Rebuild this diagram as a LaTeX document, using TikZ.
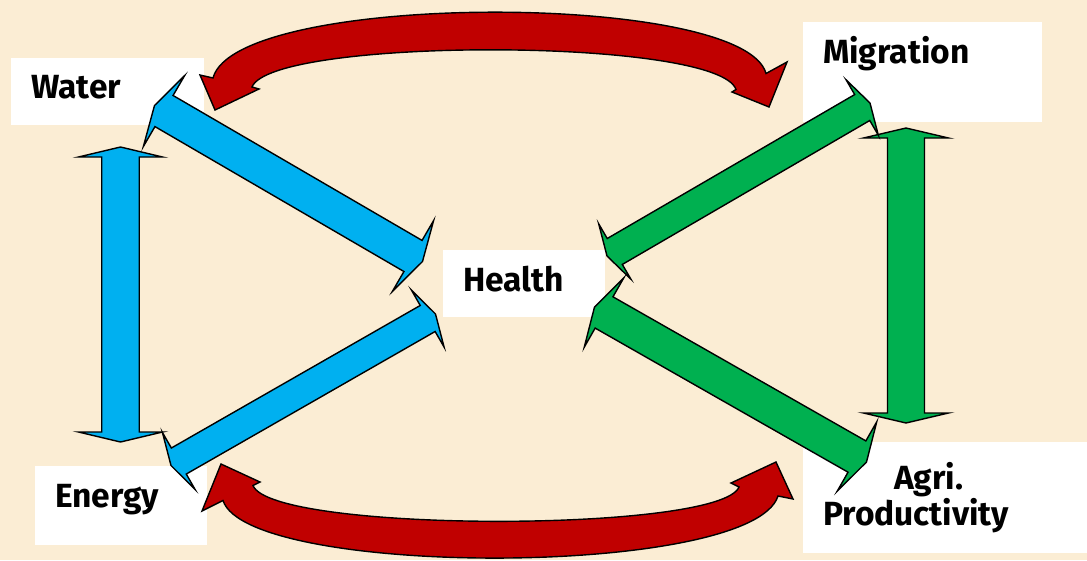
\documentclass[tikz,border=0pt]{standalone}
\usepackage{fontspec}
\setmainfont{Fira Sans}
\usetikzlibrary{calc}
\definecolor{parch}{RGB}{251,237,212}
\definecolor{skyblue}{RGB}{0,176,240}
\definecolor{leafgreen}{RGB}{0,176,80}
\definecolor{darkred}{RGB}{192,0,0}
\tikzset{
  lbl/.style  = {rectangle, fill=white, anchor=north west, inner xsep=20pt,
                 inner ysep=0pt, align=left,
                 font=\fontsize{33.5}{36}\selectfont\bfseries},
  barr/.style = {draw=black, line width=1.4pt, fill=skyblue},
  garr/.style = {draw=black, line width=1.4pt, fill=leafgreen},
  rarr/.style = {draw=black, line width=1.4pt, fill=darkred},
}
% double block arrow: style, from, to, shaft half width, head half width, head length
\newcommand{\blockarr}[6]{%
  \draw[#1] (#2)
    -- ($(#2)!#6!(#3)!#5!90:(#3)$)
    -- ($(#2)!#6!(#3)!#4!90:(#3)$)
    -- ($(#3)!#6!(#2)!#4!-90:(#2)$)
    -- ($(#3)!#6!(#2)!#5!-90:(#2)$)
    -- (#3)
    -- ($(#3)!#6!(#2)!#5!90:(#2)$)
    -- ($(#3)!#6!(#2)!#4!90:(#2)$)
    -- ($(#2)!#6!(#3)!#4!-90:(#3)$)
    -- ($(#2)!#6!(#3)!#5!-90:(#3)$)
    -- cycle;}

\begin{document}
\begin{tikzpicture}[x=1pt, y=-1pt]
\fill[parch] (0,0) rectangle (1087,560);
\useasboundingbox (0,0) rectangle (1087,560);

%% Labels
\node[lbl, text width=153pt, text height=40pt, text depth=27pt] (water) at (11,58) {Water};
\node[lbl, text width=199pt, text height=41pt, text depth=59pt] (migr) at (803,22) {Migration};
\node[lbl, text width=122pt, text height=41pt, text depth=26pt] (health) at (443,250) {Health};
\node[lbl, text width=132pt, text height=41pt, text depth=38pt] (energy) at (35,466) {Energy};
\node[lbl, text width=244pt, minimum height=111pt] (agri) at (803,442)
  {\hspace*{71pt}Agri.\\Productivity};

%% Arrow ends
\coordinate (wat_v) at (120.5,147);
\coordinate (ene_v) at (120.5,442);
\coordinate (mig_v) at (906,128);
\coordinate (agr_v) at (906,423);
\coordinate (wat_d) at (154.5,105.5);
\coordinate (hea_w) at (422.5,261.5);
\coordinate (ene_d) at (171,465.5);
\coordinate (hea_e) at (435.5,314);
\coordinate (mig_d) at (870,103);
\coordinate (hea_m) at (607,256);
\coordinate (agr_d) at (866.5,462);
\coordinate (hea_a) at (594.5,307);

%% Blue arrows
\blockarr{barr}{wat_v}{ene_v}{18.75pt}{42pt}{10pt}
\blockarr{barr}{wat_d}{hea_w}{18pt}{41pt}{11pt}
\blockarr{barr}{ene_d}{hea_e}{15pt}{33pt}{9pt}

%% Green arrows
\blockarr{garr}{mig_v}{agr_v}{18.5pt}{42.5pt}{10pt}
\blockarr{garr}{mig_d}{hea_m}{15pt}{32pt}{9pt}
\blockarr{garr}{agr_d}{hea_a}{18pt}{40pt}{11pt}

%% Red arrows
\draw[rarr] (215,110) -- (200,75) -- (213,78)
  .. controls (236,-9) and (744,-9) .. (766,73.5)
  -- (787,62) -- (769,107) -- (732,92) -- (736,89.5)
  .. controls (718,37) and (272,37) .. (252,87)
  -- (259,89) -- cycle;
\draw[rarr] (221,464) -- (202,511) -- (223,500.5)
  .. controls (248,578) and (752,578) .. (778,496)
  -- (793,499) -- (776,462) -- (731,483) -- (739,487)
  .. controls (720,533) and (272,533) .. (253,485.5)
  -- (260,482) -- cycle;

\end{tikzpicture}
\end{document}
